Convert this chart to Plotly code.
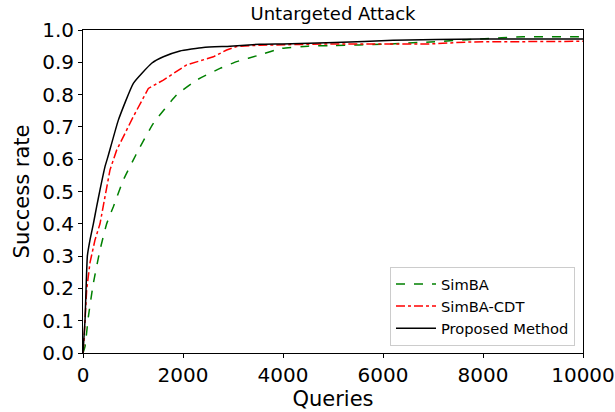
import plotly.graph_objects as go

simba_q = [0, 40, 107, 207, 340, 473, 607, 807, 1007, 1107, 1407, 1873, 2273, 2740, 3073, 3540, 3973, 4500, 5040, 6000, 6940, 7940, 8800, 10000]
simba_v = [0.0, 0.02, 0.112, 0.216, 0.319, 0.40, 0.453, 0.536, 0.598, 0.628, 0.711, 0.799, 0.845, 0.881, 0.902, 0.923, 0.943, 0.95, 0.952, 0.956, 0.963, 0.972, 0.979, 0.979]

cdt_q = [0, 20, 73, 140, 240, 340, 440, 540, 673, 1007, 1307, 1607, 2073, 2607, 2873, 3073, 3540, 4940, 6940, 7740, 10000]
cdt_v = [0.0, 0.04, 0.195, 0.28, 0.35, 0.40, 0.484, 0.567, 0.628, 0.732, 0.819, 0.845, 0.892, 0.917, 0.938, 0.949, 0.953, 0.957, 0.957, 0.963, 0.965]

prop_q = [0, 40, 87, 140, 207, 273, 340, 440, 507, 707, 1007, 1373, 1607, 1940, 2407, 2940, 3540, 4000, 5040, 6200, 7940, 10000]
prop_v = [0.0, 0.1, 0.30, 0.35, 0.40, 0.453, 0.505, 0.577, 0.612, 0.721, 0.835, 0.897, 0.917, 0.935, 0.946, 0.950, 0.956, 0.957, 0.961, 0.968, 0.972, 0.972]

x_ticks = [0, 2000, 4000, 6000, 8000, 10000]
y_ticks = [0.0, 0.1, 0.2, 0.3, 0.4, 0.5, 0.6, 0.7, 0.8, 0.9, 1.0]

fig = go.Figure()
fig.add_trace(go.Scatter(x=simba_q, y=simba_v, mode="lines", name="SimBA",
                         line=dict(color="green", width=1.5, dash="dash", shape="spline", smoothing=0.4)))
fig.add_trace(go.Scatter(x=cdt_q, y=cdt_v, mode="lines", name="SimBA-CDT",
                         line=dict(color="red", width=1.5, dash="dashdot")))
fig.add_trace(go.Scatter(x=prop_q, y=prop_v, mode="lines", name="Proposed Method",
                         line=dict(color="black", width=1.5, shape="spline", smoothing=0.4)))

font = "DejaVu Sans"
fig.update_layout(
    width=615, height=412,
    margin=dict(l=83, r=32, t=30, b=59, autoexpand=False),
    paper_bgcolor="white", plot_bgcolor="white",
    font=dict(family=font, color="black"),
    title=dict(text="Untargeted Attack", x=0.5, xref="paper", xanchor="center",
               y=1 - 13.5 / 412, yanchor="middle", font=dict(size=18, family=font)),
    showlegend=True,
    legend=dict(x=0.984, y=0.022, xanchor="right", yanchor="bottom",
                bgcolor="white", bordercolor="#cccccc", borderwidth=1,
                font=dict(size=14.7, family=font), tracegroupgap=0, itemwidth=40),
)
fig.update_xaxes(range=[0, 10000], tickvals=x_ticks, ticktext=[str(t) for t in x_ticks],
                 showgrid=False, zeroline=False, showline=True, linecolor="black", linewidth=1,
                 mirror=True, ticks="outside", ticklen=4, tickcolor="black", automargin=False,
                 tickfont=dict(size=20, family=font),
                 title=dict(text="Queries", font=dict(size=21, family=font), standoff=4))
fig.update_yaxes(range=[0, 1.0], tickvals=y_ticks, ticktext=[f"{t:.1f}" for t in y_ticks],
                 showgrid=False, zeroline=False, showline=True, linecolor="black", linewidth=1,
                 mirror=True, ticks="outside", ticklen=4, tickcolor="black", automargin=False,
                 tickfont=dict(size=20, family=font),
                 title=dict(text="Success rate", font=dict(size=21, family=font), standoff=6))

fig.write_html("out.html", config={"displayModeBar": False},
               post_script="document.body.style.margin='0';document.body.style.padding='0';")
